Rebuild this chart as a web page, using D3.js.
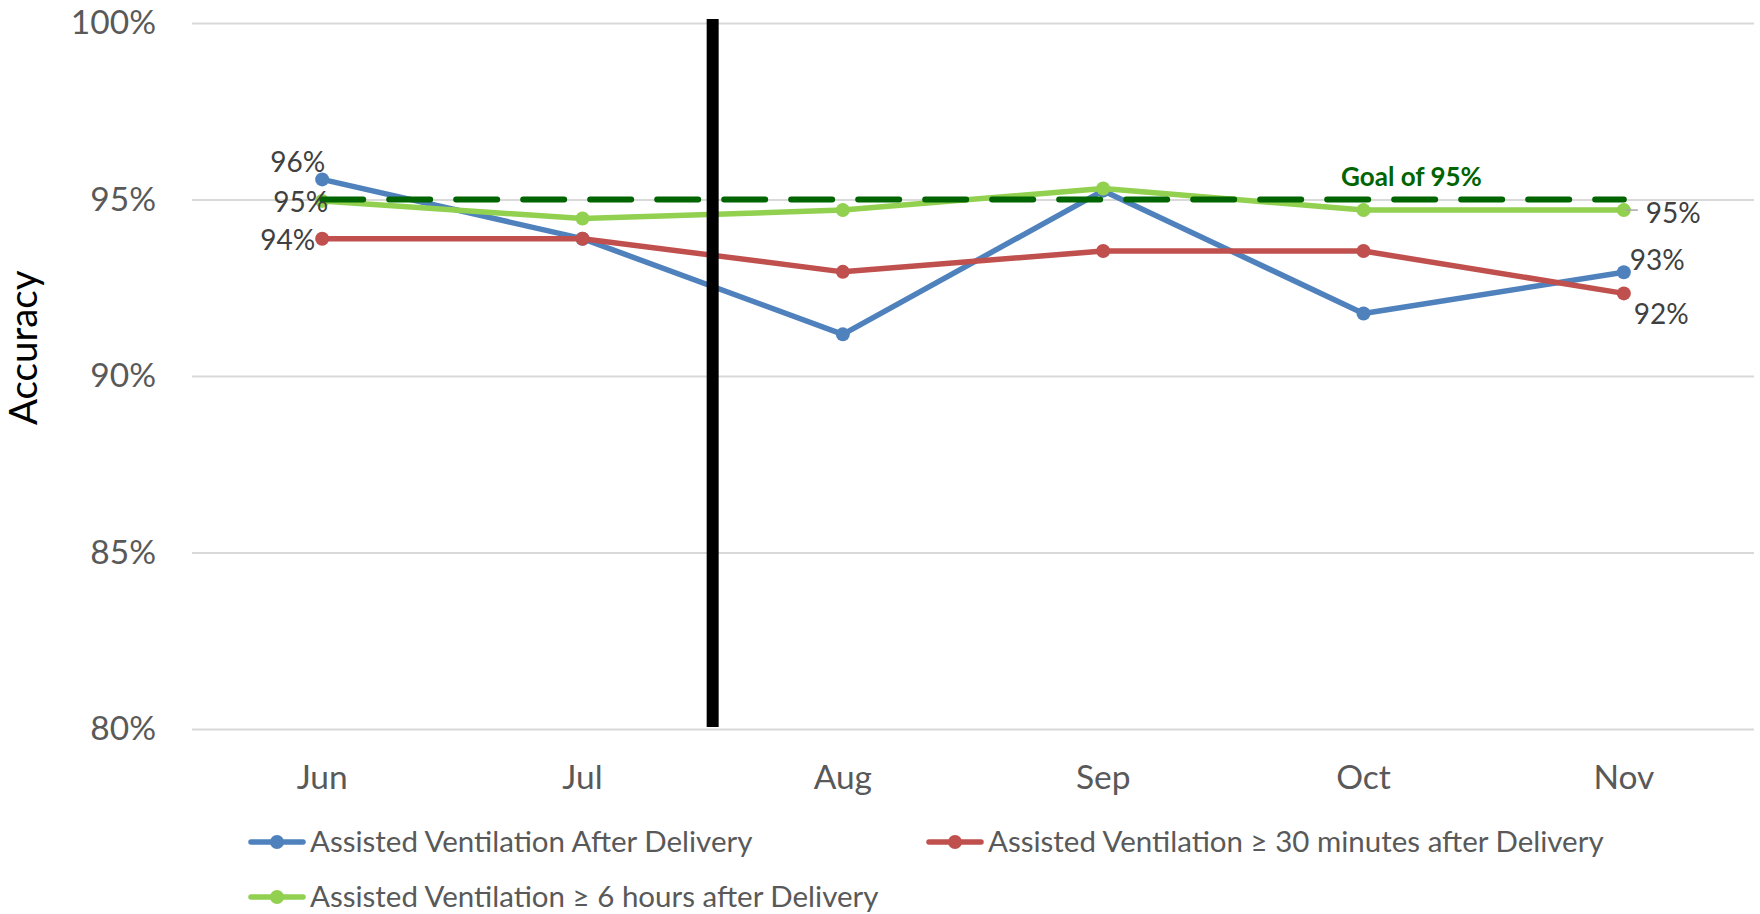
<!DOCTYPE html>
<html>
<head>
<meta charset="utf-8">
<script src="https://cdn.jsdelivr.net/npm/d3@7"></script>
<style>
  body { margin: 0; background: #fff; }
  svg { display: block; font-family: Lato, "Open Sans", sans-serif; }
</style>
</head>
<body>
<svg id="chart"></svg>
<script>
// data
const months = ['Jun', 'Jul', 'Aug', 'Sep', 'Oct', 'Nov'];
const afterDelivery = [95.57, 93.89, 91.18, 95.25, 91.77, 92.94];
const after30min = [93.89, 93.89, 92.95, 93.54, 93.54, 92.34];
const after6hours = [94.96, 94.46, 94.70, 95.31, 94.70, 94.70];
const goal = 95;
const yTicks = [80, 85, 90, 95, 100];
const seriesNames = [
  'Assisted Ventilation After Delivery',
  'Assisted Ventilation \u2265 30 minutes after Delivery',
  'Assisted Ventilation \u2265 6 hours after Delivery'
];

const W = 1760, H = 914;
const margin = { top: 23, right: 6, bottom: 185, left: 192 };
const width = W - margin.left - margin.right,
      height = H - margin.top - margin.bottom;

const colorMap = {
  blue: '#4f81bd',
  red: '#c0504d',
  green: '#92d050',
  goal: '#006400'
};

const series = [
  { name: seriesNames[0], values: afterDelivery, color: colorMap.blue },
  { name: seriesNames[1], values: after30min, color: colorMap.red },
  { name: seriesNames[2], values: after6hours, color: colorMap.green }
];

let svg = d3.select('#chart')
  .attr('width', W)
  .attr('height', H);

let chart = svg.append('g')
  .attr('transform', `translate(${margin.left}, ${margin.top})`);

let x = d3.scaleBand()
  .domain(months)
  .range([0, width]);

let y = d3.scaleLinear()
  .domain([80, 100])
  .range([height, 0]);

const cx = (m) => x(m) + x.bandwidth() / 2;

// gridlines + y labels
let yAxis = chart.append('g')
  .attr('class', 'axis axis-y')
  .call(d3.axisLeft(y)
    .tickValues(yTicks)
    .tickSize(-width)
    .tickPadding(36)
    .tickFormat((d) => d + '%'));

yAxis.select('.domain').remove();
yAxis.selectAll('line')
  .attr('stroke', '#d9d9d9')
  .attr('stroke-width', 2);
yAxis.selectAll('text')
  .attr('fill', '#595959')
  .attr('font-size', 33.5)
  .attr('font-family', 'Lato, sans-serif');

// x labels
let xAxis = chart.append('g')
  .attr('class', 'axis axis-x')
  .attr('transform', `translate(0, ${height})`)
  .call(d3.axisBottom(x).tickSize(0).tickPadding(36));

xAxis.select('.domain').remove();
xAxis.selectAll('text')
  .attr('fill', '#595959')
  .attr('font-size', 33.5)
  .attr('font-family', 'Lato, sans-serif');

// axis title
svg.append('text')
  .attr('transform', `translate(37, ${margin.top + y(90.8)}) rotate(-90)`)
  .attr('text-anchor', 'middle')
  .attr('font-size', 38.5)
  .attr('fill', '#000')
  .text('Accuracy');

// lines
let line = d3.line()
  .x((d, i) => cx(months[i]))
  .y((d) => y(d));

series.forEach((s) => {
  let g = chart.append('g').attr('class', 'series');
  g.append('path')
    .datum(s.values)
    .attr('fill', 'none')
    .attr('stroke', s.color)
    .attr('stroke-width', 5.5)
    .attr('stroke-linejoin', 'round')
    .attr('stroke-linecap', 'round')
    .attr('d', line);
  g.selectAll('circle')
    .data(s.values)
    .enter().append('circle')
    .attr('r', 7)
    .attr('cx', (d, i) => cx(months[i]))
    .attr('cy', (d) => y(d))
    .attr('fill', s.color);
});

// goal line
chart.append('line')
  .attr('x1', cx(months[0]))
  .attr('x2', cx(months[months.length - 1]))
  .attr('y1', y(goal))
  .attr('y2', y(goal))
  .attr('stroke', colorMap.goal)
  .attr('stroke-width', 6)
  .attr('stroke-linecap', 'round')
  .attr('stroke-dasharray', '41,26');

chart.append('text')
  .attr('x', cx('Oct') + 48)
  .attr('y', y(goal) - 14)
  .attr('text-anchor', 'middle')
  .attr('font-size', 26)
  .attr('font-weight', 'bold')
  .attr('fill', colorMap.goal)
  .text('Goal of 95%');

// data labels
const labelColor = '#404040';
const first = 0, last = months.length - 1;
let labels = [
  { m: months[first], v: afterDelivery[first], dx: 3, dy: -7, anchor: 'end' },
  { m: months[first], v: after6hours[first], dx: 6, dy: 11, anchor: 'end' },
  { m: months[first], v: after30min[first], dx: -7, dy: 11, anchor: 'end' },
  { m: months[last], v: afterDelivery[last], dx: 6, dy: -2, anchor: 'start' },
  { m: months[last], v: after6hours[last], dx: 22, dy: 13, anchor: 'start' },
  { m: months[last], v: after30min[last], dx: 10, dy: 31, anchor: 'start' }
];

chart.append('line')
  .attr('x1', cx(months[last]) + 2)
  .attr('x2', cx(months[last]) + 14)
  .attr('y1', y(after6hours[last]))
  .attr('y2', y(after6hours[last]))
  .attr('stroke', '#a6a6a6')
  .attr('stroke-width', 1.5);

chart.append('g')
  .attr('class', 'data-labels')
  .selectAll('text')
  .data(labels)
  .enter().append('text')
  .attr('x', (d) => cx(d.m) + d.dx)
  .attr('y', (d) => y(d.v) + d.dy)
  .attr('text-anchor', (d) => d.anchor)
  .attr('font-size', 28)
  .attr('fill', labelColor)
  .text((d) => Math.round(d.v) + '%');

// vertical marker between Jul and Aug
chart.append('line')
  .attr('x1', x('Aug'))
  .attr('x2', x('Aug'))
  .attr('y1', y(100) - 4)
  .attr('y2', y(80) - 2)
  .attr('stroke', '#000')
  .attr('stroke-width', 12);

// legend
const legendPos = [[251, 842], [929, 842], [251, 897]];
let legend = svg.append('g').attr('class', 'legend');
series.forEach((s, i) => {
  let item = legend.append('g')
    .attr('transform', `translate(${legendPos[i][0]}, ${legendPos[i][1]})`);
  item.append('line')
    .attr('x1', 0).attr('x2', 52)
    .attr('stroke', s.color)
    .attr('stroke-width', 5.5)
    .attr('stroke-linecap', 'round');
  item.append('circle')
    .attr('cx', 26).attr('r', 7)
    .attr('fill', s.color);
  item.append('text')
    .attr('x', 59)
    .attr('dy', '0.35em')
    .attr('font-size', 29.5)
    .attr('fill', '#595959')
    .text(s.name);
});
</script>
</body>
</html>
